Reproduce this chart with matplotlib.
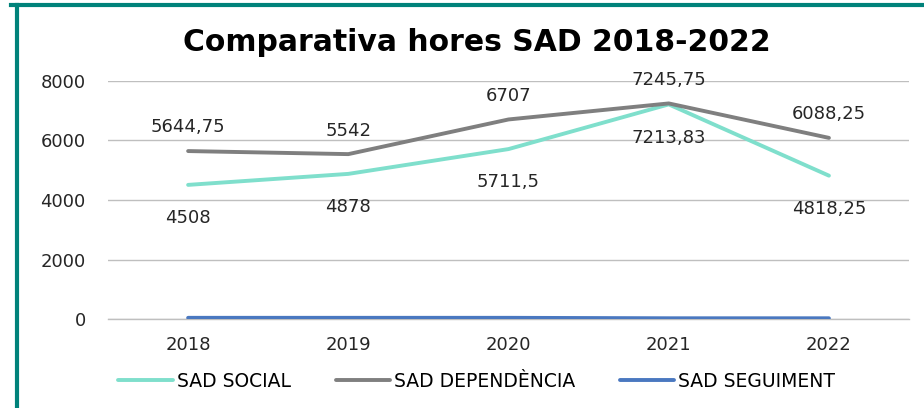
import matplotlib.pyplot as plt
from matplotlib.lines import Line2D

anys = ['2018', '2019', '2020', '2021', '2022']
sad_social = [4508, 4878, 5711.5, 7213.83, 4818.25]
sad_dependencia = [5644.75, 5542, 6707, 7245.75, 6088.25]
sad_seguiment = [40, 40, 40, 25, 25]

etiq_social = ['4508', '4878', '5711,5', '7213,83', '4818,25']
etiq_dependencia = ['5644,75', '5542', '6707', '7245,75', '6088,25']

plt.rcParams['font.family'] = ['DejaVu Sans']

fig = plt.figure(figsize=(9.24, 4.08), dpi=100)
ax = fig.add_axes([0.1169, 0.2181, 0.8669, 0.5834])

x = range(len(anys))
ax.plot(x, sad_social, color='#7fdfcc', lw=2.8, solid_capstyle='round', label='SAD SOCIAL')
ax.plot(x, sad_dependencia, color='#7f7f7f', lw=2.8, solid_capstyle='round', label='SAD DEPENDÈNCIA')
ax.plot(x, sad_seguiment, color='#4a78c0', lw=2.8, solid_capstyle='round', label='SAD SEGUIMENT')

# etiquetes de dades
for i in x:
    ax.annotate(etiq_social[i], (i, sad_social[i]), xytext=(0, -24), textcoords='offset points',
                ha='center', va='center', fontsize=13, color='#262626')
    ax.annotate(etiq_dependencia[i], (i, sad_dependencia[i]), xytext=(0, 17), textcoords='offset points',
                ha='center', va='center', fontsize=13, color='#262626')

ax.set_xlim(-0.5, 4.5)
ax.set_ylim(0, 8000)
ax.set_yticks([0, 2000, 4000, 6000, 8000])
ax.set_xticks(list(x))
ax.set_xticklabels(anys)
ax.grid(axis='y', color='#bfbfbf', lw=1)
ax.axhline(0, color='#bfbfbf', lw=1, clip_on=False, zorder=0.5)
ax.set_axisbelow(True)
for s in ['top', 'right', 'left', 'bottom']:
    ax.spines[s].set_visible(False)
ax.tick_params(length=0, labelsize=13, colors='#262626')
ax.tick_params(axis='x', pad=12)
ax.tick_params(axis='y', pad=16)

fig.text(0.516, 0.895, 'Comparativa hores SAD 2018-2022', ha='center', va='center',
         fontsize=21.5, fontweight='bold', color='black')

fig.legend(loc='center', bbox_to_anchor=(0.516, 0.066), ncol=3, frameon=False,
           fontsize=13.5, handlelength=2.9, handletextpad=0.2, columnspacing=2.4)

# marc
fig.add_artist(Line2D([0.012, 1.0], [0.988, 0.988], transform=fig.transFigure, color='#00827a', lw=3))
fig.add_artist(Line2D([0.018, 0.018], [0.0, 0.988], transform=fig.transFigure, color='#00827a', lw=3))

fig.savefig('out.png', dpi=100)
